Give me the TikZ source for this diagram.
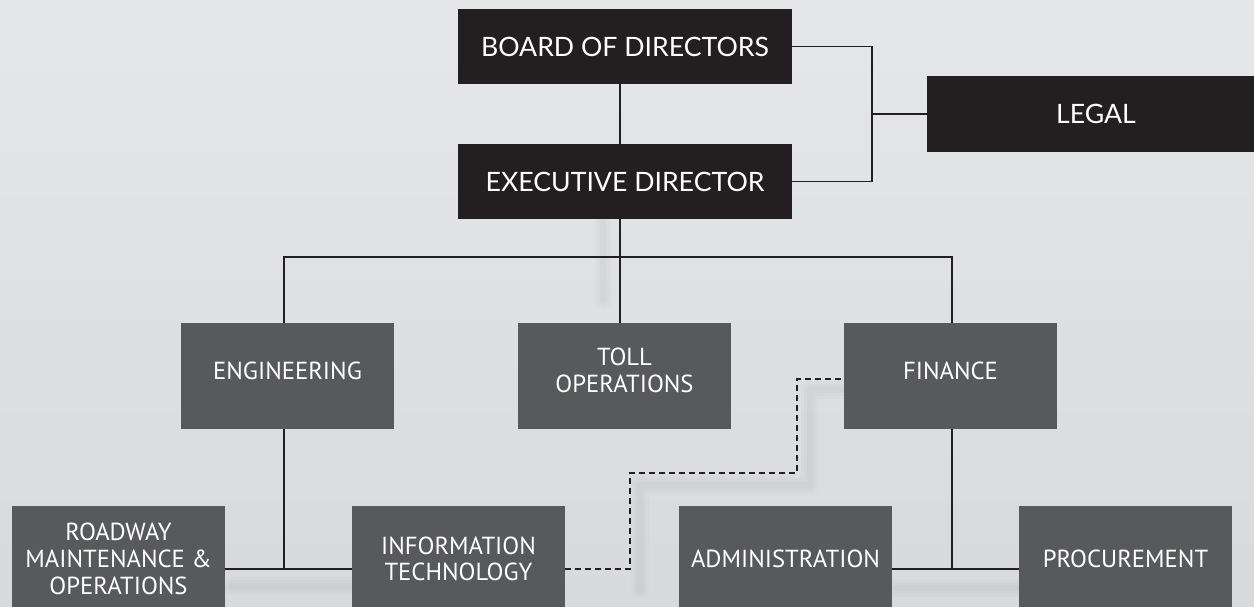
\documentclass[tikz,border=0pt]{standalone}
\usepackage{fontspec}
\newfontfamily\topfont{Lato}
\newfontfamily\lowfont{PT Sans}
\definecolor{darkbox}{HTML}{231F20}
\definecolor{midbox}{HTML}{58595B}
\definecolor{bgtop}{HTML}{E6E7E8}
\definecolor{bgbot}{HTML}{D8D9DB}
\definecolor{linec}{HTML}{231F20}
\begin{document}
\begin{tikzpicture}[x=0.75pt,y=-0.75pt,
  topbox/.style={fill=darkbox, text=white, minimum width=250.5pt, minimum height=56.25pt, inner sep=0pt, font=\topfont\fontsize{20}{24}\selectfont},
  legalbox/.style={topbox, minimum width=253.5pt, minimum height=57pt},
  unitbox/.style={fill=midbox, minimum width=159.75pt, minimum height=79.5pt, inner sep=0pt},
  unittext/.style={text=white, align=center, inner sep=0pt, font=\lowfont\fontsize{18.5}{20}\selectfont},
  conn/.style={draw=linec, line width=1.4pt},
  dotconn/.style={draw=linec, line width=1.1pt, dash pattern=on 4.5pt off 3pt},
  softshadow/.style={draw=black, line cap=round, line join=round}
]
\useasboundingbox (0,0) rectangle (1254,607);
\clip (0,0) rectangle (1254,607);
\shade[top color=bgtop, bottom color=bgbot] (0,0) rectangle (1254,607);

% soft shadows
\foreach \w/\o in {14/0.012,9/0.014,5/0.016}{
  \draw[softshadow, line width=\w pt, opacity=\o] (640,590) -- (640,485) -- (810,485) -- (810,390) -- (845,390);
  \draw[softshadow, line width=\w pt, opacity=\o] (232,586) -- (350,586);
  \draw[softshadow, line width=\w pt, opacity=\o] (898,588) -- (1017,588);
  \draw[softshadow, line width=\w pt, opacity=\o] (603,222) -- (603,300);
}

% top level
\node[topbox] (board) at (625,46.5) {BOARD OF DIRECTORS};
\node[topbox] (exec) at (625,181.5) {EXECUTIVE DIRECTOR};
\node[legalbox] (legal) at (1096,114) {LEGAL};

% departments
\node[unitbox] (eng) at (287.5,376) {};
\node[unitbox] (toll) at (624.5,376) {};
\node[unitbox] (fin) at (950.5,376) {};
\node[unittext] (engt) at ([yshift=4.1pt]eng.center) {ENGINEERING};
\node[unittext] (tollt) at ([yshift=4.1pt]toll.center) {TOLL\\OPERATIONS};
\node[unittext] (fint) at ([yshift=4.1pt]fin.center) {FINANCE};

% bottom units
\node[unitbox, unittext, fill=midbox, inner sep=0pt] (road) at (118.5,559) {ROADWAY\\MAINTENANCE \&\\OPERATIONS};
\node[unitbox, unittext, fill=midbox, inner sep=0pt] (it) at (458.5,559) {INFORMATION\\TECHNOLOGY};
\node[unitbox, unittext, fill=midbox, inner sep=0pt] (adm) at (785.5,559) {ADMINISTRATION};
\node[unitbox, unittext, fill=midbox, inner sep=0pt] (proc) at (1125.5,559) {PROCUREMENT};

% junction coordinates
\coordinate (vx) at (620,0);
\coordinate (lj) at (872,0);
\coordinate (bus) at (0,257);
\coordinate (engx) at (284,0);
\coordinate (finx) at (952,0);
\coordinate (lowbus) at (0,569);

% connectors
\draw[conn] (board.south -| vx) -- (exec.north -| vx);
\draw[conn] (board.east) -- (board.east -| lj) -- (exec.east -| lj) -- (exec.east);
\draw[conn] (legal.west -| lj) -- (legal.west);
\draw[conn] (exec.south -| vx) -- (toll.north -| vx);
\draw[conn] (eng.north -| engx) -- (bus -| engx) -- (bus -| finx) -- (fin.north -| finx);
\draw[conn] (eng.south -| engx) -- (lowbus -| engx);
\draw[conn] (road.east |- lowbus) -- (it.west |- lowbus);
\draw[conn] (fin.south -| finx) -- (lowbus -| finx);
\draw[conn] (adm.east |- lowbus) -- (proc.west |- lowbus);

% dotted-line reporting
\coordinate (d1) at (630,569);
\coordinate (d2) at (630,473);
\coordinate (d3) at (797,473);
\coordinate (d4) at (797,379);
\draw[dotconn] (it.east |- d1) -- (d1) -- (d2) -- (d3) -- (d4) -- (fin.west |- d4);
\end{tikzpicture}
\end{document}
